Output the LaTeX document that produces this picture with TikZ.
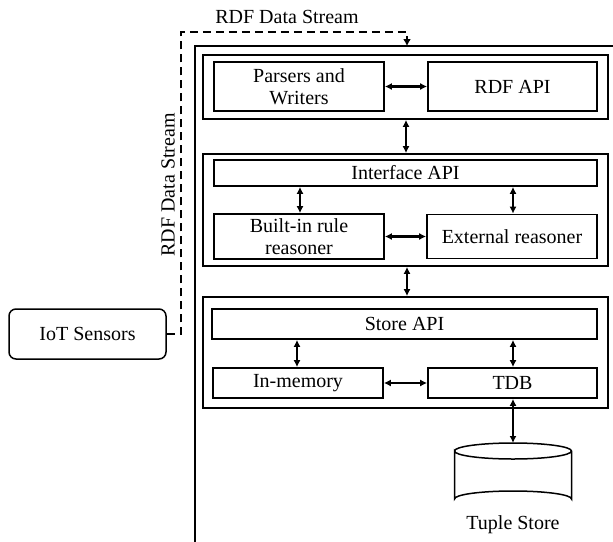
\documentclass[tikz,border=0pt]{standalone}
\usepackage{fontspec}
\setmainfont{Liberation Serif}
\usetikzlibrary{arrows.meta}
\begin{document}
\begin{tikzpicture}[x=1pt,y=-1pt,
  box/.style={draw,line width=1.7pt,rectangle,inner sep=0pt,align=center,font=\fontsize{20}{22}\selectfont},
  grp/.style={draw,line width=1.7pt,rectangle,inner sep=0pt},
  link/.style={line width=2.2pt,{Latex[length=7pt,width=7pt]}-{Latex[length=7pt,width=7pt]}},
  lbl/.style={font=\fontsize{20}{22}\selectfont,inner sep=0pt}]
\useasboundingbox (0,0) rectangle (613,541);
\begin{scope}
\clip (0,0) rectangle (613,541);
\draw[line width=1.7pt] (195,46) rectangle (640,570);
\end{scope}
% groups
\node[grp,minimum width=405pt,minimum height=64pt] (g1) at (405.5,87) {};
\node[grp,minimum width=405pt,minimum height=112pt] (g2) at (405.5,210) {};
\node[grp,minimum width=405pt,minimum height=111pt] (g3) at (405.5,352.5) {};
% group 1
\node[box,minimum width=170pt,minimum height=49pt] (pw) at (299,86.5) {Parsers and\\Writers};
\node[box,minimum width=169pt,minimum height=49pt] (rdf) at (512.5,86.5) {RDF API};
% group 2
\node[box,minimum width=383pt,minimum height=26pt] (iapi) at (405.5,173) {Interface API};
\node[box,minimum width=170pt,minimum height=45pt] (bir) at (299,236.5) {Built-in rule\\reasoner};
\node[box,minimum width=170pt,minimum height=44pt] (ext) at (512,236.5) {External reasoner};
% group 3
\node[box,minimum width=385pt,minimum height=30pt] (sapi) at (404.5,324) {Store API};
\node[box,minimum width=170pt,minimum height=30pt] (mem) at (298,383) {In-memory};
\node[box,minimum width=169pt,minimum height=30pt] (tdb) at (512.5,383) {TDB};
% cylinder
\coordinate (ts) at (513,443);
\draw[line width=1.5pt] (454.5,451) arc[start angle=180,end angle=360,x radius=58.5,y radius=8]
  arc[start angle=0,end angle=180,x radius=58.5,y radius=8] -- (454.5,499)
  arc[start angle=180,end angle=360,x radius=58.5,y radius=8] -- (571.5,451);
\node[lbl] (tsl) at (513,525) {Tuple Store};
% IoT
\node[draw,line width=1.5pt,rounded corners=7pt,minimum width=157pt,minimum height=50pt,inner sep=0pt,font=\fontsize{20}{22}\selectfont] (iot) at (87.5,334) {IoT Sensors};
% arrows
\draw[link] (pw.east) -- (rdf.west);
\draw[link] (g1.south -| 406,0) -- (g2.north -| 406,0);
\draw[link] (iapi.south -| 300,0) -- (bir.north -| 300,0);
\draw[link] (iapi.south -| 513,0) -- (ext.north -| 513,0);
\draw[link] (bir.east) -- (ext.west);
\draw[link] (g2.south -| 407,0) -- (g3.north -| 407,0);
\draw[link] (sapi.south -| 297,0) -- (mem.north -| 297,0);
\draw[link] (sapi.south -| 513,0) -- (tdb.north -| 513,0);
\draw[link] (mem.east) -- (tdb.west);
\draw[link] (tdb.south -| 513,0) -- (ts);
% dashed stream
\coordinate (in) at (407,46);
\draw[line width=2pt,dash pattern=on 8pt off 5pt,-{Latex[length=7pt,width=8pt]}] (iot.east) -- (181,334) -- (181,32) -- (407,32) -- (in);
\node[lbl] (t1) at (287,17) {RDF Data Stream};
\node[lbl,rotate=90] (t2) at (168,185) {RDF Data Stream};
\end{tikzpicture}
\end{document}
